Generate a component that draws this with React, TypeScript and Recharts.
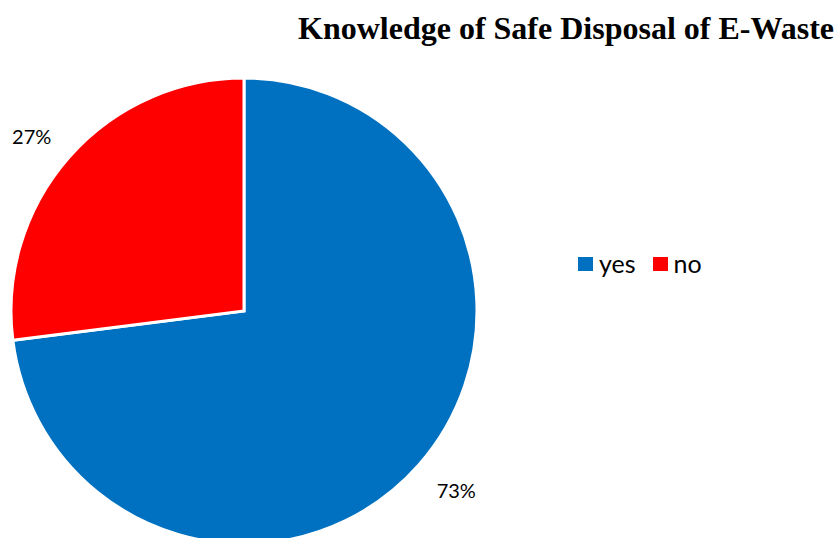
import React from "react";
import { PieChart, Pie, Cell, Legend } from "recharts";

const categories = ["yes", "no"];
const values = [73, 27];
const colors = ["#0070C0", "#FF0000"];
const title = "Knowledge of Safe Disposal of E-Waste";

const data = categories.map((name, i) => ({ name, value: values[i] }));
const RADIAN = Math.PI / 180;

const renderLabel = (props: any) => {
  const { cx, cy, midAngle, outerRadius, percent } = props;
  const x = cx + (outerRadius + 50) * Math.cos(-midAngle * RADIAN);
  const y = cy + (outerRadius + 35) * Math.sin(-midAngle * RADIAN) + 2;
  return (
    <text
      x={x}
      y={y}
      fill="#000"
      textAnchor="middle"
      dominantBaseline="central"
      fontFamily="Lato, 'Liberation Sans', sans-serif"
      fontSize={20}
    >
      {`${Math.round(percent * 100)}%`}
    </text>
  );
};

const renderLegend = (props: any) => {
  const payload = [...(props.payload || [])].sort(
    (a: any, b: any) => categories.indexOf(a.value) - categories.indexOf(b.value)
  );
  return (
    <div style={{ display: "flex", alignItems: "center", fontFamily: "Lato, 'Liberation Sans', sans-serif", fontSize: 25, lineHeight: "30px", color: "#000" }}>
      {payload.map((p: any, i: number) => (
        <div key={i} style={{ display: "flex", alignItems: "center", marginRight: 17 }}>
          <span style={{ display: "inline-block", width: 15, height: 14, background: p.color, marginRight: 6, marginTop: 1 }} />
          <span>{p.value}</span>
        </div>
      ))}
    </div>
  );
};

export default function App() {
  return (
    <div style={{ position: "absolute", left: 0, top: 0, width: 836, height: 538, background: "#fff", overflow: "hidden" }}>
      <div
        style={{
          position: "absolute",
          left: 266,
          width: 600,
          top: 12,
          textAlign: "center",
          fontFamily: "'Liberation Serif', 'Times New Roman', serif",
          fontWeight: "bold",
          fontSize: 32,
          lineHeight: 1,
          color: "#000",
          whiteSpace: "nowrap",
        }}
      >
        {title}
      </div>
      <PieChart width={836} height={538} margin={{ top: 0, right: 0, bottom: 0, left: 0 }}>
        <Pie
          data={data}
          dataKey="value"
          nameKey="name"
          cx={244}
          cy={311}
          outerRadius={233}
          startAngle={90}
          endAngle={-270}
          stroke="#fff"
          strokeWidth={3}
          label={renderLabel}
          labelLine={false}
          isAnimationActive={false}
        >
          {data.map((d, i) => (
            <Cell key={d.name} fill={colors[i]} />
          ))}
        </Pie>
        <Legend
          content={renderLegend}
          wrapperStyle={{ position: "absolute", left: 578, top: 248, width: 220, height: 30 }}
        />
      </PieChart>
    </div>
  );
}
